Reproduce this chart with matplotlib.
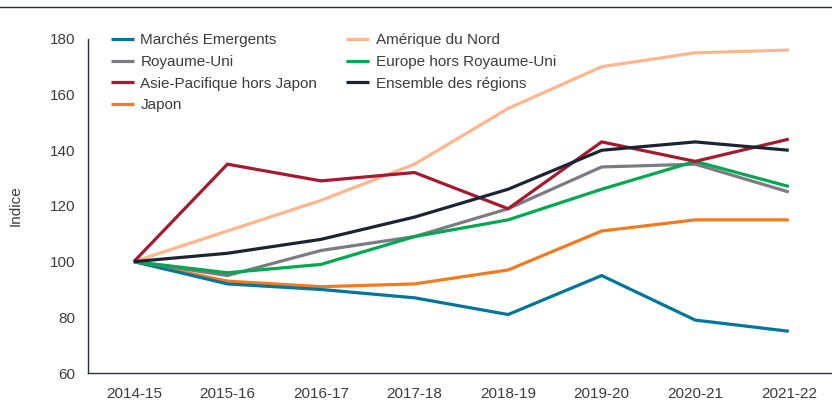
import matplotlib.pyplot as plt
from matplotlib.lines import Line2D

# Périodes (axe X)
periodes = ["2014-15", "2015-16", "2016-17", "2017-18",
            "2018-19", "2019-20", "2020-21", "2021-22"]

# Indices par région (base 100 en 2014-15)
marches_emergents = [100, 92, 90, 87, 81, 95, 79, 75]
royaume_uni = [100, 95, 104, 109, 119, 134, 135, 125]
asie_pacifique = [100, 135, 129, 132, 119, 143, 136, 144]
japon = [100, 93, 91, 92, 97, 111, 115, 115]
amerique_nord = [100, 111, 122, 135, 155, 170, 175, 176]
europe_hors_ru = [100, 96, 99, 109, 115, 126, 136, 127]
ensemble = [100, 103, 108, 116, 126, 140, 143, 140]

series = [
    ("Marchés Emergents", marches_emergents, "#00769a"),
    ("Royaume-Uni", royaume_uni, "#7b7b84"),
    ("Asie-Pacifique hors Japon", asie_pacifique, "#a6192e"),
    ("Japon", japon, "#f47a20"),
    ("Amérique du Nord", amerique_nord, "#ffb68c"),
    ("Europe hors Royaume-Uni", europe_hors_ru, "#00a84f"),
    ("Ensemble des régions", ensemble, "#1c2433"),
]

plt.rcParams["font.family"] = ["Liberation Sans", "DejaVu Sans"]
GRIS_TEXTE = "#3c3c3c"
TAILLE = 11

fig = plt.figure(figsize=(8.32, 4.05), dpi=100)
ax = fig.add_axes([0.1058, 0.079, 0.894, 0.825])

x = list(range(len(periodes)))
# Ordre de tracé : la ligne claire d'abord, l'ensemble par-dessus
ordre = [4, 3, 0, 1, 5, 2, 6]
lignes = {}
for i in ordre:
    nom, vals, col = series[i]
    (l,) = ax.plot(x, vals, color=col, lw=2.3, label=nom,
                   solid_joinstyle="miter", solid_capstyle="butt")
    lignes[i] = l

ax.set_xlim(-0.49, 7.46)
ax.set_ylim(60, 180)
ax.set_yticks(range(60, 181, 20))
ax.set_xticks(x)
ax.set_xticklabels(periodes)
ax.tick_params(axis="both", length=0, labelsize=TAILLE, colors=GRIS_TEXTE)
ax.tick_params(axis="y", pad=9)
ax.tick_params(axis="x", pad=10)
ax.set_ylabel("Indice", fontsize=TAILLE, color=GRIS_TEXTE, labelpad=20)

for s in ("top", "right"):
    ax.spines[s].set_visible(False)
for s in ("left", "bottom"):
    ax.spines[s].set_color("#2a3140")
    ax.spines[s].set_linewidth(1.0)

# Légende sur deux colonnes, dans l'ordre d'origine
handles = [lignes[i] for i in range(len(series))]
ax.legend(handles=handles, labels=[s[0] for s in series], ncol=2,
          loc="upper left", bbox_to_anchor=(0.012, 1.058), frameon=False,
          fontsize=TAILLE, labelcolor=GRIS_TEXTE, handlelength=1.5,
          handletextpad=0.45, columnspacing=1.9, labelspacing=0.5)

# Filet horizontal en haut de la figure
fig.add_artist(Line2D([0, 1], [0.983, 0.983], color="#2a3140", lw=1.0,
                      transform=fig.transFigure))

fig.savefig("out.png", dpi=100, facecolor="white")
